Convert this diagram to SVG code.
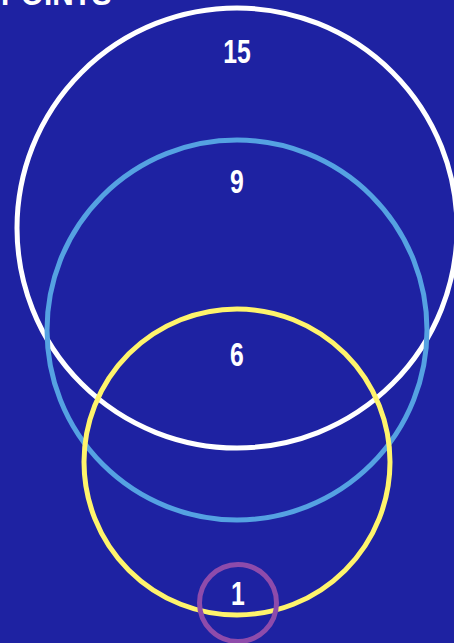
<svg xmlns="http://www.w3.org/2000/svg" width="454" height="643" viewBox="0 0 454 643">
<style>
.lbl{font-family:"Liberation Sans","Roboto",sans-serif;font-weight:bold;font-size:33px;fill:#ffffff;text-anchor:middle}
.ring{fill:none;stroke-width:5}
</style>
<rect x="0" y="0" width="454" height="643" fill="#1e22a2"/>
<text class="lbl" transform="translate(1,5) scale(0.9,1)" x="0" y="0" style="text-anchor:start">POINTS</text>
<g id="n15">
<circle class="ring" cx="237" cy="228" r="220" stroke="#ffffff"/>
<text class="lbl" transform="translate(237,63) scale(0.75,1)" x="0" y="0">15</text>
</g>
<g id="n9">
<circle class="ring" cx="237" cy="330" r="190" stroke="#55a2e2"/>
<text class="lbl" transform="translate(237,193) scale(0.75,1)" x="0" y="0">9</text>
</g>
<g id="n6">
<circle class="ring" cx="237" cy="462" r="153" stroke="#fff46c"/>
<text class="lbl" transform="translate(237,366) scale(0.75,1)" x="0" y="0">6</text>
</g>
<g id="n1">
<circle class="ring" cx="238" cy="603" r="38.5" stroke="#8e4bab"/>
<text class="lbl" transform="translate(238,605) scale(0.75,1)" x="0" y="0">1</text>
</g>
<g id="connectors"></g>
</svg>
